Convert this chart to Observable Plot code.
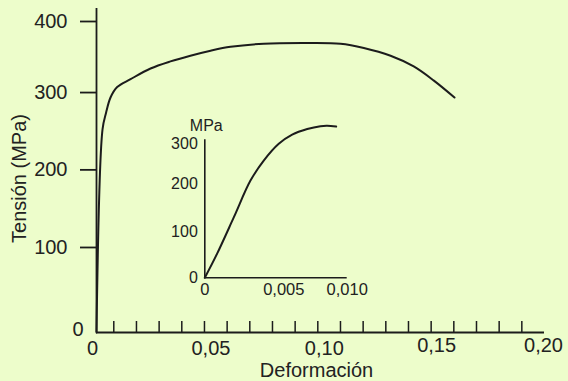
<!DOCTYPE html>
<html><head><meta charset="utf-8">
<script src="https://cdn.jsdelivr.net/npm/d3@7"></script>
<script src="https://cdn.jsdelivr.net/npm/@observablehq/plot@0.6"></script>
<style>
html,body{margin:0;padding:0;background:#edfdcb;}
#wrap{position:relative;width:568px;height:381px;overflow:hidden;background:#edfdcb;}
#main{position:absolute;left:0;top:0;}
#inset{position:absolute;left:160px;top:110px;}
svg{display:block;}
</style></head><body>
<div id="wrap"><div id="main"></div><div id="inset"></div></div>
<script>
// Main stress-strain curve
const strainMain = [0, 0.0035, 0.0055, 0.0081, 0.0115, 0.0174, 0.0262, 0.035, 0.0438, 0.0527, 0.0615, 0.0762, 0.0938, 0.110, 0.1203, 0.1321, 0.1423, 0.1512, 0.1603];
const stressMain = [0, 250, 271, 291, 305, 316, 331, 341, 349, 356, 361.5, 366, 367, 366, 360, 349, 334, 314, 291];
// Inset (elastic region)
const strainInset = [0, 0.00078, 0.00184, 0.00289, 0.00373, 0.00468, 0.00566, 0.00685, 0.00789, 0.00842, 0.00913];
const stressInset = [0, 53, 131, 208, 258, 300, 323, 337, 344, 345, 343];
// Tick values
const yTicksMain = [0, 100, 200, 300, 400];
const xMinorTicks = [0.01,0.02,0.03,0.04,0.05,0.06,0.07,0.08,0.09,0.10,0.11,0.12,0.13,0.14,0.15,0.16,0.17,0.18,0.19];
const xLabelZero = [0];
const xLabelsLow = [0.05, 0.10];
const xLabelsHigh = [0.15];
const xLabelEnd = [0.20];
const yTicksInset = [0, 100, 200, 300];
const xTicksInset = [0, 0.005, 0.010];
const xTitle = "Deformación";
const yTitle = "Tensión (MPa)";
const insetUnit = "MPa";

const ink = "#1c1c1c";
const txt = "#222";
const font = "'Liberation Sans', Arial, Helvetica, sans-serif";
const fmt = n => d => d === 0 ? "0" : d.toFixed(n).replace(".", ",");

// The hand-drawn axes are not evenly spaced: piecewise warps (fraction of axis length)
const xWarpMain = d3.scaleLinear().domain([0, 0.01, 0.20]).range([0, 0.0386, 1]);
const yWarpMain = d3.scaleLinear().domain(yTicksMain).range([0, 0.278, 0.526, 0.773, 1]);
const xWarpInset = d3.scaleLinear().domain(xTicksInset).range([0, 0.5548, 1]);
const yWarpInset = d3.scaleLinear().domain(yTicksInset).range([0, 0.3403, 0.7015, 1]);

const FS = 20;
const xLab = (ticks, dx, dy) => Plot.axisX(ticks, {anchor: "bottom", tickSize: 0, tickPadding: 8, dx, dy, fontSize: FS, tickFormat: fmt(2), label: null});
const mainIdx = strainMain.map((_, i) => i);
const main = Plot.plot({
  width: 568, height: 381,
  marginLeft: 96, marginRight: 24, marginTop: 8, marginBottom: 49,
  style: {background: "transparent", fontFamily: font, color: txt, overflow: "visible"},
  x: {type: "linear", transform: xWarpMain, domain: [0, 1], range: [96, 544]},
  y: {type: "linear", transform: yWarpMain, domain: [0, 1], range: [332, 19]},
  marks: [
    Plot.ruleX([0], {stroke: ink, strokeWidth: 1.8}),
    Plot.ruleY([0], {stroke: ink, strokeWidth: 1.8}),
    Plot.axisY(yTicksMain.filter(d => d > 0), {tickSize: 16, tickPadding: 13, dy: 2, fontSize: FS, stroke: ink, strokeWidth: 1.8, label: null, tickFormat: d => String(d)}),
    Plot.axisY([0], {tickSize: 0, tickPadding: 13, dy: -3, fontSize: FS, label: null, tickFormat: d => String(d)}),
    Plot.axisX(xMinorTicks, {anchor: "top", frameAnchor: "bottom", tickSize: 12, stroke: ink, strokeWidth: 1.5, tickFormat: () => "", label: null}),
    xLab(xLabelZero, -4, 0),
    xLab(xLabelsLow, 6.5, 0),
    xLab(xLabelsHigh, 5.5, -3),
    xLab(xLabelEnd, -1, -3),
    Plot.text([xTitle], {text: d => d, frameAnchor: "bottom", textAnchor: "middle", lineAnchor: "middle", dx: -4, dy: 38, fontSize: FS, fill: txt}),
    Plot.text([yTitle], {text: d => d, frameAnchor: "left", textAnchor: "middle", lineAnchor: "middle", rotate: -90, dx: -76.5, dy: 8, fontSize: FS, fill: txt}),
    Plot.line(mainIdx, {x: i => strainMain[i], y: i => stressMain[i], curve: "catmull-rom", stroke: ink, strokeWidth: 2, strokeLinejoin: "round"})
  ]
});
document.getElementById("main").appendChild(main);

const insetIdx = strainInset.map((_, i) => i);
const inset = Plot.plot({
  width: 210, height: 190,
  marginLeft: 44.3, marginRight: 23.3, marginTop: 29.3, marginBottom: 22.7,
  style: {background: "transparent", fontFamily: font, color: txt, overflow: "visible"},
  x: {type: "linear", transform: xWarpInset, domain: [0, 1], range: [44.3, 186.7]},
  y: {type: "linear", transform: yWarpInset, domain: [0, 1], range: [167.3, 33.3]},
  marks: [
    Plot.ruleX([0], {stroke: ink, strokeWidth: 1.6}),
    Plot.ruleY([0], {stroke: ink, strokeWidth: 1.6}),
    Plot.axisY(yTicksInset, {tickSize: 0, tickPadding: 7, fontSize: 16, label: null, tickFormat: d => String(d)}),
    Plot.axisX(xTicksInset, {anchor: "bottom", tickSize: 0, tickPadding: 5, fontSize: 16.5, tickFormat: fmt(3), label: null}),
    Plot.text([insetUnit], {text: d => d, frameAnchor: "top-left", textAnchor: "middle", lineAnchor: "middle", dx: 1.5, dy: -14, fontSize: 16, fill: txt}),
    Plot.line(insetIdx, {x: i => strainInset[i], y: i => stressInset[i], curve: "catmull-rom", stroke: ink, strokeWidth: 2, strokeLinejoin: "round"})
  ]
});
document.getElementById("inset").appendChild(inset);
</script>
</body></html>
